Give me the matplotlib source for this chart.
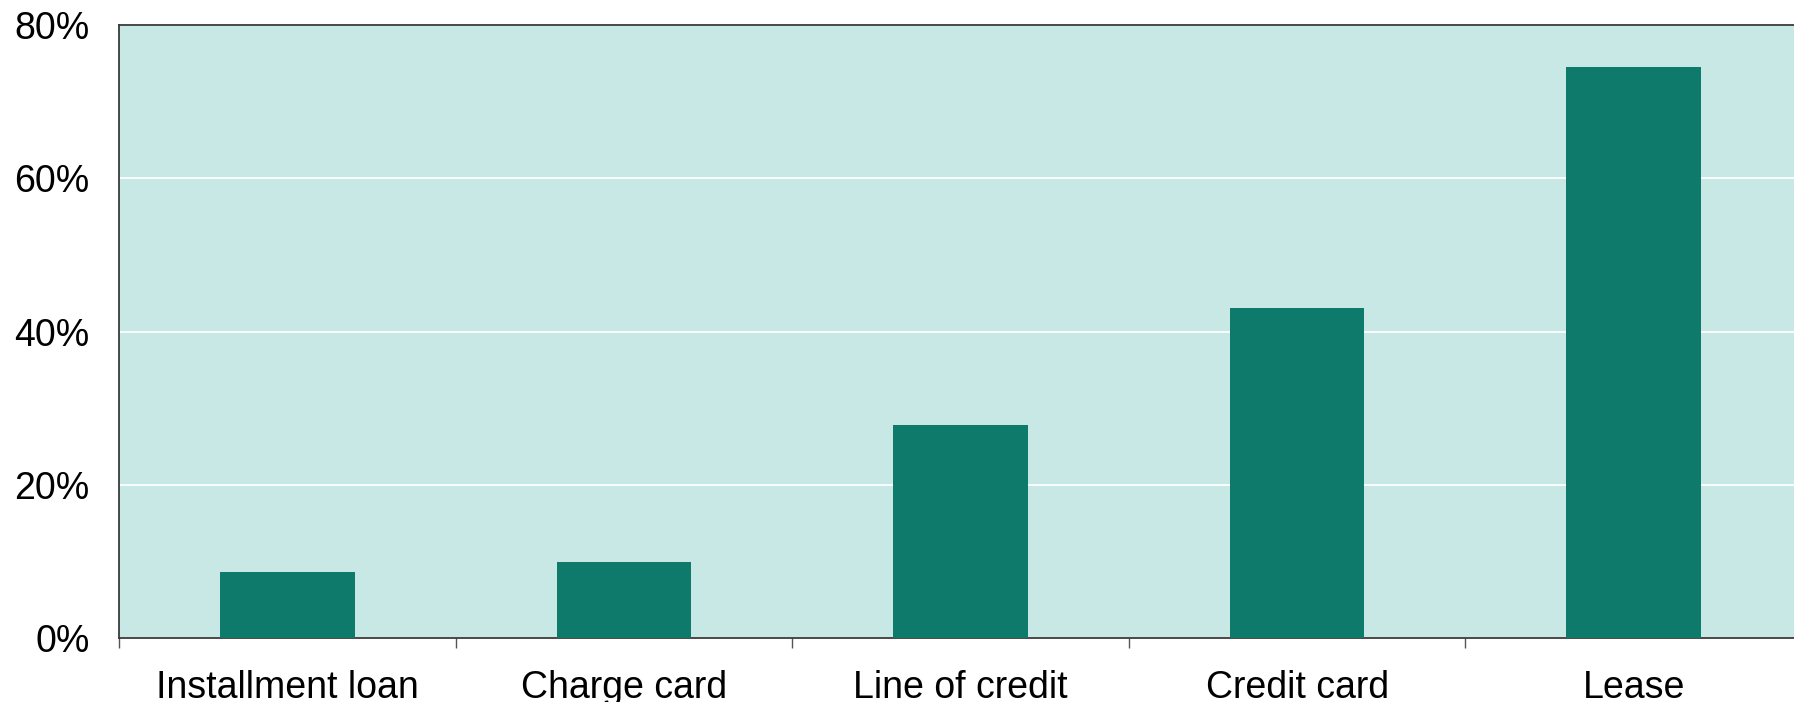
import matplotlib.pyplot as plt
import numpy as np
from matplotlib.ticker import FixedLocator, PercentFormatter

categories = ["Installment loan", "Charge card", "Line of credit", "Credit card", "Lease"]
shares = [8.6, 10.0, 27.8, 43.1, 74.5]
y_ticks = [0, 20, 40, 60, 80]

plt.rcParams['font.family'] = ['Liberation Sans', 'DejaVu Sans']

fig = plt.figure(figsize=(17.94, 7.02), dpi=100)
# axes runs a little past the right edge of the figure, like the original
ax = fig.add_axes([119 / 1794, 63.7 / 702, 1683 / 1794, 613.3 / 702])
ax.set_facecolor('#c8e8e6')

x = np.arange(len(categories))
ax.bar(x, shares, width=0.4, color='#0d7a6b', zorder=3)

ax.set_xlim(-0.5, len(categories) - 0.5)
ax.set_ylim(0, 80)
ax.set_yticks(y_ticks)
ax.yaxis.set_major_formatter(PercentFormatter(decimals=0))
ax.yaxis.grid(True, color='white', linewidth=1.3, zorder=1)
ax.set_axisbelow(True)

# labels at the centres, tick marks at the category borders
ax.set_xticks(x)
ax.set_xticklabels(categories)
ax.xaxis.set_minor_locator(FixedLocator(np.arange(-0.5, len(categories), 1.0)))
ax.tick_params(axis='x', which='major', length=0, pad=23, labelsize=27)
ax.tick_params(axis='x', which='minor', length=7.2, width=1.0, color='#555555')
ax.tick_params(axis='y', length=0, pad=21, labelsize=27)

for side in ['left', 'top', 'bottom']:
    ax.spines[side].set_color('#3a3a3a')
    ax.spines[side].set_linewidth(1.3)
ax.spines['right'].set_visible(False)

fig.savefig('out.png', dpi=100)
